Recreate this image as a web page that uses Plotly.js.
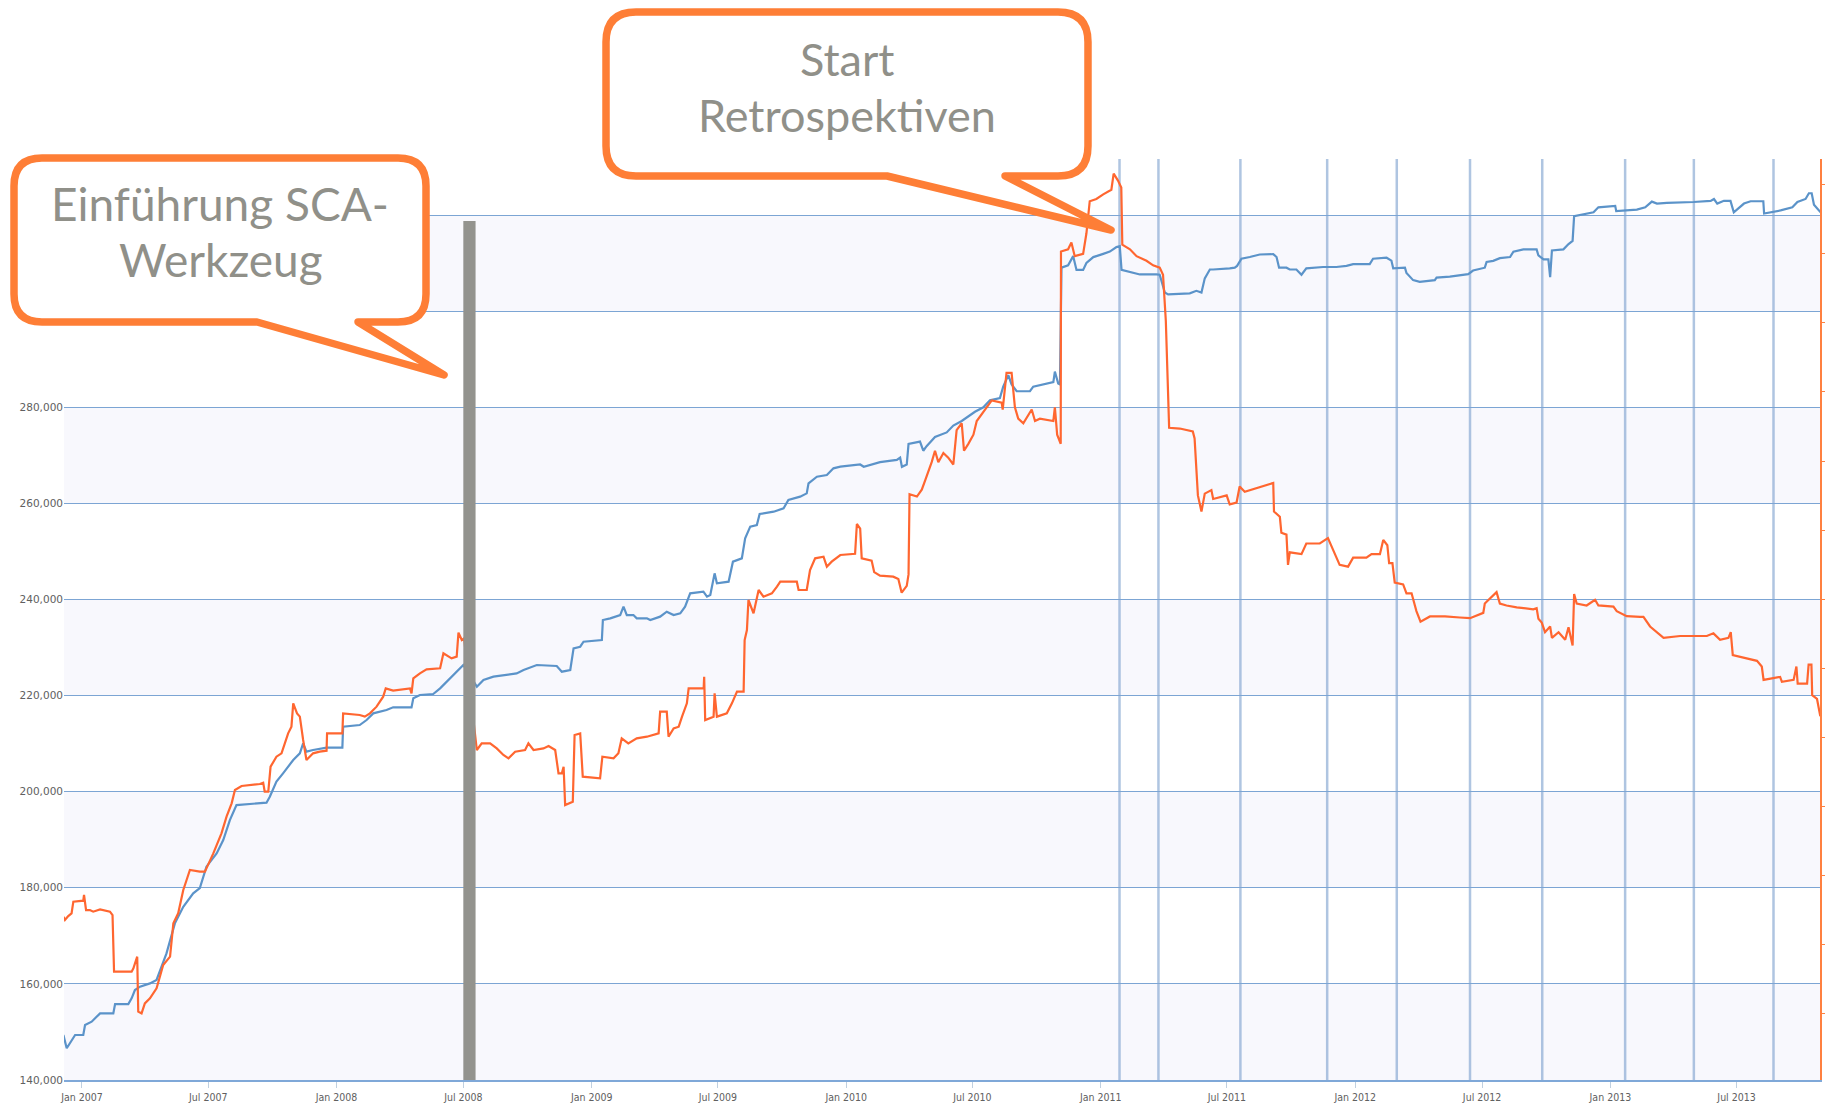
<!DOCTYPE html>
<html>
<head>
<meta charset="utf-8">
<script src="https://cdn.plot.ly/plotly-3.0.1.min.js"></script>
<style>
html,body{margin:0;padding:0;background:#fff;}
#chart{width:1825px;height:1108px;}
</style>
</head>
<body>
<div id="chart"></div>
<script>
// ---------- DATA (decimal years) ----------
const blueYears = [
2006.927,2006.940,2006.973,2007.005,2007.012,2007.038,2007.071,2007.123,2007.130,2007.182,
2007.195,2007.208,2007.228,2007.267,2007.293,2007.332,2007.365,2007.398,2007.437,2007.463,
2007.489,2007.529,2007.555,2007.581,2007.607,2007.725,2007.738,2007.764,2007.790,2007.830,
2007.856,2007.869,2007.882,2007.908,2007.961,2008.023,2008.026,2008.091,2008.118,2008.144,
2008.196,2008.222,2008.294,2008.301,2008.327,2008.379,2008.406,2008.432,2008.464,2008.497,
2008.550,2008.576,2008.615,2008.667,2008.706,2008.733,2008.765,2008.785,2008.863,2008.883,
2008.916,2008.929,2008.955,2008.968,2009.040,2009.044,2009.073,2009.112,2009.125,2009.138,
2009.164,2009.177,2009.217,2009.230,2009.269,2009.295,2009.322,2009.348,2009.367,2009.387,
2009.439,2009.453,2009.466,2009.483,2009.492,2009.538,2009.555,2009.590,2009.603,2009.623,
2009.649,2009.660,2009.715,2009.754,2009.773,2009.819,2009.845,2009.852,2009.885,2009.924,
2009.950,2009.977,2010.055,2010.069,2010.133,2010.199,2010.212,2010.219,2010.238,2010.245,
2010.290,2010.303,2010.316,2010.349,2010.395,2010.421,2010.454,2010.480,2010.506,2010.539,
2010.565,2010.604,2010.617,2010.637,2010.650,2010.670,2010.722,2010.735,2010.775,2010.814,
2010.820,2010.833,2010.840,2010.846,2010.872,2010.892,2010.905,2010.931,2010.944,2010.971,
2011.010,2011.036,2011.062,2011.075,2011.082,2011.115,2011.154,2011.219,2011.232,2011.252,
2011.265,2011.350,2011.376,2011.396,2011.409,2011.429,2011.442,2011.507,2011.527,2011.536,
2011.553,2011.586,2011.625,2011.678,2011.691,2011.701,2011.730,2011.743,2011.769,2011.789,
2011.808,2011.874,2011.926,2011.966,2011.992,2012.057,2012.070,2012.123,2012.142,2012.149,
2012.195,2012.201,2012.227,2012.253,2012.312,2012.319,2012.371,2012.443,2012.462,2012.508,
2012.515,2012.541,2012.567,2012.607,2012.620,2012.659,2012.711,2012.718,2012.738,2012.757,
2012.764,2012.771,2012.816,2012.836,2012.852,2012.858,2012.894,2012.934,2012.953,2013.019,
2013.023,2013.104,2013.137,2013.163,2013.183,2013.222,2013.327,2013.394,2013.407,2013.420,
2013.446,2013.472,2013.485,2013.525,2013.551,2013.601,2013.604,2013.669,2013.715,2013.735,
2013.767,2013.780,2013.791,2013.800,2013.826
];
const blueValues = [
149360,146600,149360,149360,151440,152140,153870,153870,155810,155810,
156990,158720,159420,160110,160810,166350,172600,176060,178840,179950,
184390,187160,189940,194100,197220,197710,198960,202080,203820,206590,
207980,210060,208330,208670,209160,209160,213530,213870,214910,216300,
217000,217550,217550,219420,220120,220330,221500,222890,224630,226360,
221850,223240,223930,224280,224620,225320,225870,226360,226150,224970,
225320,229830,230170,231210,231560,235720,236070,236760,238500,236760,
236760,236070,236070,235720,236420,237460,236760,237110,238500,241270,
241620,240580,240930,245430,243350,243700,247860,248560,252720,255150,
255490,257780,258270,258960,260700,261390,262080,264170,265550,265900,
267290,267630,268090,267610,268570,269050,269520,267610,268090,272380,
272850,270950,271900,273810,274760,276190,277140,278100,279050,280000,
281430,281910,284290,286670,284760,283330,283330,284290,284760,285240,
287430,284950,284760,309060,309540,311440,308580,308580,310010,311250,
311920,312400,313350,313540,308580,308110,307630,307630,307570,303860,
303490,303710,304230,303860,306820,308670,308670,308900,309040,309410,
310900,311270,311790,311860,311270,309040,309040,308670,308670,307570,
308900,309190,309190,309410,309790,309790,310900,311120,310520,308900,
309040,307930,306450,306080,306450,306970,307190,307710,308450,309040,
310240,310470,311030,311270,312380,312860,312860,311590,310790,310790,
307060,312620,312860,313970,314610,319770,320160,320560,321600,321910,
320800,321120,321600,322790,322390,322550,322710,322950,323340,322390,
322950,322950,320560,322390,322870,322870,320320,320960,321600,322710,
323340,324530,324530,322150,320560
];
const orangeYears = [
2006.927,2006.933,2006.946,2006.959,2006.966,2007.005,2007.008,2007.016,2007.031,2007.044,
2007.071,2007.110,2007.120,2007.126,2007.195,2007.202,2007.217,2007.221,2007.234,2007.247,
2007.267,2007.293,2007.306,2007.319,2007.346,2007.359,2007.378,2007.398,2007.411,2007.424,
2007.463,2007.483,2007.516,2007.548,2007.568,2007.588,2007.601,2007.627,2007.699,2007.712,
2007.718,2007.732,2007.741,2007.764,2007.784,2007.810,2007.823,2007.830,2007.845,2007.856,
2007.869,2007.882,2007.908,2007.934,2007.961,2007.963,2008.023,2008.026,2008.091,2008.111,
2008.131,2008.157,2008.183,2008.193,2008.222,2008.288,2008.294,2008.301,2008.327,2008.353,
2008.406,2008.419,2008.451,2008.471,2008.478,2008.491,2008.500,
2008.550,2008.569,2008.602,2008.628,2008.654,2008.674,2008.700,2008.739,2008.752,2008.772,
2008.811,2008.831,2008.857,2008.870,2008.883,2008.890,2008.896,2008.926,2008.933,2008.955,
2008.965,2009.033,2009.042,2009.086,2009.105,2009.118,2009.144,2009.177,2009.217,2009.263,
2009.269,2009.295,2009.302,2009.322,2009.342,2009.355,2009.374,2009.381,2009.440,2009.442,
2009.446,2009.479,2009.483,2009.492,2009.531,2009.551,2009.571,2009.597,2009.601,2009.610,
2009.616,2009.636,2009.656,2009.675,2009.708,2009.728,2009.741,2009.806,2009.813,2009.845,
2009.858,2009.878,2009.911,2009.924,2009.943,2009.977,
2010.035,2010.042,2010.055,2010.061,2010.100,2010.110,2010.133,2010.185,2010.205,2010.218,
2010.238,2010.245,2010.249,2010.278,2010.297,2010.310,2010.323,2010.336,2010.349,2010.362,
2010.382,2010.401,2010.421,2010.434,2010.454,2010.463,2010.480,2010.500,2010.513,2010.526,
2010.545,2010.572,2010.611,2010.615,2010.630,2010.650,2010.663,2010.676,2010.696,2010.729,
2010.742,2010.761,2010.814,2010.820,2010.829,2010.843,2010.844,2010.872,2010.885,2010.898,
2010.931,2010.944,2010.957,2010.983,2011.010,2011.042,2011.051,2011.068,2011.081,2011.085,
2011.115,2011.141,2011.180,2011.206,2011.232,
2011.245,2011.256,2011.265,2011.269,2011.311,2011.362,2011.369,2011.382,2011.396,2011.409,
2011.435,2011.442,2011.495,2011.507,2011.534,2011.546,2011.566,2011.638,2011.678,2011.681,
2011.704,2011.710,2011.730,2011.736,2011.743,2011.789,2011.808,2011.861,2011.893,2011.939,
2011.972,2011.992,2012.044,2012.064,2012.097,2012.110,2012.126,2012.133,2012.146,2012.155,
2012.188,2012.201,2012.221,2012.240,2012.256,2012.293,2012.352,2012.410,2012.450,2012.502,
2012.508,2012.515,2012.548,2012.554,2012.567,2012.593,2012.633,2012.698,2012.711,2012.718,
2012.731,2012.744,2012.764,2012.771,2012.797,2012.823,2012.836,2012.852,2012.858,2012.868,
2012.907,2012.940,2012.953,2013.012,2013.025,2013.051,2013.064,2013.117,2013.130,2013.156,
2013.209,2013.274,2013.379,2013.405,2013.431,2013.464,2013.473,2013.481,2013.536,2013.576,
2013.595,2013.602,2013.667,2013.674,2013.720,2013.731,2013.736,2013.773,2013.779,2013.790,
2013.793,2013.812,2013.825
];
const orangeValues = [
173990,173290,174120,174680,177110,177320,178500,175370,175370,175030,
175510,175030,174330,162540,162540,163240,165670,154220,153870,155950,
156990,159070,161500,163930,165670,172600,174680,179540,181620,183700,
183350,183350,187160,191330,194800,197570,200350,201180,201600,201870,
200000,200000,205200,207280,207980,212140,213530,218380,216300,215610,
210750,206590,207980,208330,208530,212140,212140,216300,215950,215610,
216300,217690,219770,221500,221020,221500,220460,223590,224630,225460,
225670,228790,227750,228100,233090,231560,231910,
208670,210060,210060,209010,207630,206930,208320,208670,210060,208670,
209010,209500,208670,203810,203810,205200,197220,197920,211790,212140,
203120,202770,207280,206930,207980,211100,210060,211100,211440,212140,
216650,216650,211440,213180,213520,215610,218380,221500,221500,223930,
214910,215610,220460,215610,216300,218380,220810,220810,231560,233640,
239890,237110,241970,240580,241270,242660,243700,243700,241970,241970,
246130,248560,248900,246820,247860,249250,
249510,255700,254750,248560,248080,245700,244940,244750,244270,241410,
242840,245220,261900,261420,262850,264750,266660,268570,270950,268570,
270470,269520,268090,275240,276670,270950,272380,274290,277140,278100,
279520,281430,280950,279520,287140,287140,280000,277620,276670,279520,
277140,277620,277140,280000,274290,272380,312400,312870,314300,311440,
311920,316210,322880,323350,324310,325260,328600,327160,325740,313830,
312870,311440,310490,309540,309060,
307570,297940,285350,275720,275570,274980,273500,261650,258310,262020,
262760,260910,261650,259790,260160,263500,262390,263500,264240,258310,
257200,253870,253500,247200,249800,249430,251650,251650,252760,247200,
246830,248690,248690,249430,249430,252390,251280,247580,247580,243500,
243130,241280,241280,237580,235360,236470,236470,236250,236100,237210,
239150,239540,241130,241530,239150,238750,238350,237960,238190,235970,
235180,233190,234380,232000,233190,231600,234220,230410,241130,239150,
238750,239940,238750,238510,237560,236760,236520,236370,236370,234380,
232000,232400,232400,232950,231600,232000,233190,228420,227640,227230,
226040,223260,223890,222870,223260,226040,222470,222470,226440,226440,
220090,219290,215710
];
const retroYears = [2011.074,2011.227,2011.549,2011.890,2012.163,2012.450,2012.733,2013.058,2013.328,2013.641];
const scaYears = [2008.497,2008.545];
const scaTop = 318760;
const yTickValues = [140000,160000,180000,200000,220000,240000,260000,280000,300000,320000];
const yTickLabels = ["140,000","160,000","180,000","200,000","220,000","240,000","260,000","280,000","",""];
const bandStarts = [140000,180000,220000,260000,300000];
const bandSize = 20000;
const callout1Lines = ["Einführung SCA-","Werkzeug"];
const callout2Lines = ["Start","Retrospektiven"];

// ---------- helpers ----------
function yearToDate(y){
  const yr = Math.floor(y);
  const s = Date.UTC(yr,0,1), e = Date.UTC(yr+1,0,1);
  const d = new Date(s + (y-yr)*(e-s));
  return d.toISOString().slice(0,19).replace('T',' ');
}
const W = 1825, H = 1108;
const M = {l:64, r:5, t:159, b:28};
const PW = W - M.l - M.r, PH = H - M.t - M.b;
const px = x => (x - M.l)/PW;
const py = y => (H - M.b - y)/PH;
function calloutPath(L,T,R,B,r,tail){
  const P = (x,y) => px(x).toFixed(5)+','+py(y).toFixed(5);
  return 'M'+P(L+r,T)+' L'+P(R-r,T)+' Q'+P(R,T)+' '+P(R,T+r)+
         ' L'+P(R,B-r)+' Q'+P(R,B)+' '+P(R-r,B)+
         ' L'+P(tail[1],B)+' L'+P(tail[2],tail[3])+' L'+P(tail[0],B)+
         ' L'+P(L+r,B)+' Q'+P(L,B)+' '+P(L,B-r)+
         ' L'+P(L,T+r)+' Q'+P(L,T)+' '+P(L+r,T)+' Z';
}

const ORANGE_CALLOUT = '#fe7e36';
const TEXT_GRAY = '#909089';

const traces = [
  {x: blueYears.map(yearToDate), y: blueValues, type:'scatter', mode:'lines',
   line:{color:'#5b93c9', width:2.2}, hoverinfo:'skip', showlegend:false},
  {x: orangeYears.map(yearToDate), y: orangeValues, type:'scatter', mode:'lines',
   line:{color:'#ff6630', width:2.2}, hoverinfo:'skip', showlegend:false},
  {x: [], y: [], yaxis:'y2', type:'scatter', mode:'lines', hoverinfo:'skip', showlegend:false}
];

const shapes = [];
bandStarts.forEach(b => shapes.push({type:'rect', xref:'paper', yref:'y', x0:0, x1:1, y0:b, y1:b+bandSize,
  fillcolor:'#f8f8fd', line:{width:0}, layer:'below'}));
retroYears.forEach(d => shapes.push({type:'line', xref:'x', yref:'paper', x0:yearToDate(d), x1:yearToDate(d), y0:0, y1:1,
  line:{color:'rgba(110,150,200,0.55)', width:2.5}, layer:'between'}));
shapes.push({type:'rect', xref:'x', yref:'y', x0:yearToDate(scaYears[0]), x1:yearToDate(scaYears[1]), y0:yTickValues[0], y1:scaTop,
  fillcolor:'#93938e', line:{width:0}, layer:'above'});
shapes.push({type:'path', xref:'paper', yref:'paper', layer:'above', fillcolor:'#ffffff',
  line:{color:ORANGE_CALLOUT, width:7.5}, path:calloutPath(14,158,426,322,28,[257,358,444,375])});
shapes.push({type:'path', xref:'paper', yref:'paper', layer:'above', fillcolor:'#ffffff',
  line:{color:ORANGE_CALLOUT, width:7.5}, path:calloutPath(606,12,1088,176,30,[887,1005,1111,230])});

const fontFam = 'Lato, "Open Sans", sans-serif';
const annotations = [
  {text:callout1Lines[0], x:px(220), y:py(203), size:46},
  {text:callout1Lines[1], x:px(221), y:py(259), size:46},
  {text:callout2Lines[0], x:px(847), y:py(59), size:45},
  {text:callout2Lines[1], x:px(847), y:py(115), size:45}
].map(a => ({xref:'paper', yref:'paper', showarrow:false, xanchor:'center', yanchor:'middle',
  text:a.text, x:a.x, y:a.y, font:{family:fontFam, size:a.size, color:TEXT_GRAY}}));

const layout = {
  width: W, height: H,
  margin: {l:M.l, r:M.r, t:M.t, b:M.b, pad:0},
  paper_bgcolor:'#ffffff', plot_bgcolor:'#ffffff',
  showlegend:false,
  xaxis: {
    type:'date',
    range:[yearToDate(2006.9293), yearToDate(2013.8237)],
    tick0:'2007-01-01', dtick:'M6', tickformat:'%b %Y',
    showgrid:false, zeroline:false,
    ticks:'outside', ticklen:6, tickcolor:'#c0d0e0', tickwidth:1,
    showline:true, linecolor:'#7fa8d8', linewidth:2,
    tickfont:{family:'"DejaVu Sans Condensed", "Liberation Sans Narrow", "Open Sans", sans-serif', size:10.5, color:'#606060'}
  },
  yaxis: {
    range:[140000, 331660],
    tickmode:'array', tickvals:yTickValues, ticktext:yTickLabels,
    showgrid:true, gridcolor:'#7ca5d4', gridwidth:1,
    zeroline:false, showline:false, ticks:'',
    tickfont:{family:'"DejaVu Sans", "Open Sans", sans-serif', size:10.5, color:'#606060'}
  },
  yaxis2: {
    overlaying:'y', side:'right', range:[0.0434, 13.37], tick0:0, dtick:1,
    showgrid:false, zeroline:false, showticklabels:false,
    showline:true, linecolor:'#ff8040', linewidth:2,
    ticks:'outside', ticklen:8, tickcolor:'#ff8040'
  },
  shapes: shapes,
  annotations: annotations
};

Plotly.newPlot('chart', traces, layout, {displayModeBar:false, staticPlot:true}).then(() => {
  document.querySelectorAll('.shapelayer path').forEach(p => { p.style.strokeLinejoin = 'round'; });
});
</script>
</body>
</html>
